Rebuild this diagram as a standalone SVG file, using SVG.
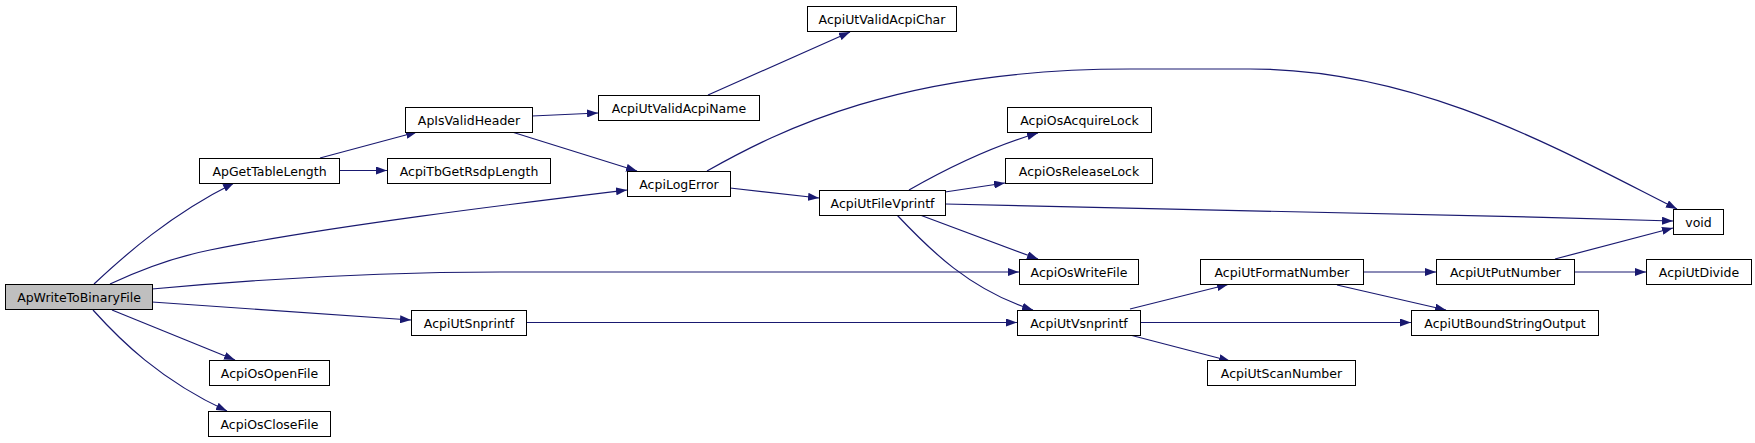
<svg xmlns="http://www.w3.org/2000/svg" width="1755" height="443" viewBox="0 0 1755 443">
<style>
.n rect{fill:#fff;stroke:#000;stroke-width:1}
.root rect{fill:#bfbfbf}
.n text{font-family:"DejaVu Sans",sans-serif;font-size:12.5px;fill:#000;text-anchor:middle}
.e path{fill:none;stroke:#191970;stroke-width:1.2}
</style>
<defs>
<marker id="ah" markerUnits="userSpaceOnUse" markerWidth="11" markerHeight="8" viewBox="0 0 11 8" refX="11" refY="4" orient="auto">
<path d="M0,0 L11,4 L0,8 z" fill="#191970"/>
</marker>
</defs>
<rect width="1755" height="443" fill="#fff"/>
<g id="edges" class="e">
<path marker-end="url(#ah)" d="M94,284 C125,255 170,215 234,183"/>
<path marker-end="url(#ah)" d="M339,170.5 L387,170.5"/>
<path marker-end="url(#ah)" d="M320,158 L417,132"/>
<path marker-end="url(#ah)" d="M532,116 L598,113"/>
<path marker-end="url(#ah)" d="M512,132 L637,171"/>
<path marker-end="url(#ah)" d="M708,95 L850,32"/>
<path marker-end="url(#ah)" d="M110,284 C140,270 170,258 210,250 C330,226 520,203 627,190"/>
<path marker-end="url(#ah)" d="M152,289 C260,279 380,272 500,272 L1019,272"/>
<path marker-end="url(#ah)" d="M152,302 L411,320"/>
<path marker-end="url(#ah)" d="M112,310 L235,360"/>
<path marker-end="url(#ah)" d="M93,310 C120,340 160,380 227,411"/>
<path marker-end="url(#ah)" d="M526,322.5 L1017,322.5"/>
<path marker-end="url(#ah)" d="M730,188 L819,198"/>
<path marker-end="url(#ah)" d="M707,171 C780,130 900,69 1130,69 L1250,69 C1420,69 1560,150 1677,209"/>
<path marker-end="url(#ah)" d="M909,190 C930,178 980,150 1038,133"/>
<path marker-end="url(#ah)" d="M945,192 L1005,183"/>
<path marker-end="url(#ah)" d="M945,204 C1100,206 1400,213 1673,221"/>
<path marker-end="url(#ah)" d="M920,215 L1038,259"/>
<path marker-end="url(#ah)" d="M897,215 C930,250 970,290 1033,310"/>
<path marker-end="url(#ah)" d="M1130,309 L1228,284.5"/>
<path marker-end="url(#ah)" d="M1140,322.5 L1411,322.5"/>
<path marker-end="url(#ah)" d="M1130,335 L1230,361"/>
<path marker-end="url(#ah)" d="M1363,272 L1436,272"/>
<path marker-end="url(#ah)" d="M1337,285 L1446,310"/>
<path marker-end="url(#ah)" d="M1555,259 L1673,228"/>
<path marker-end="url(#ah)" d="M1574,272 L1646,272"/>
</g>
<g id="ApWriteToBinaryFile" class="n root"><rect x="5.5" y="284.5" width="147" height="25"/><text x="79" y="301.5">ApWriteToBinaryFile</text></g>
<g id="ApGetTableLength" class="n"><rect x="199.5" y="158.5" width="140" height="25"/><text x="269.5" y="175.5">ApGetTableLength</text></g>
<g id="ApIsValidHeader" class="n"><rect x="405.5" y="107.5" width="127" height="25"/><text x="469" y="124.5">ApIsValidHeader</text></g>
<g id="AcpiTbGetRsdpLength" class="n"><rect x="387.5" y="158.5" width="163" height="25"/><text x="469" y="175.5">AcpiTbGetRsdpLength</text></g>
<g id="AcpiUtValidAcpiName" class="n"><rect x="598.5" y="95.5" width="161" height="25"/><text x="679" y="112.5">AcpiUtValidAcpiName</text></g>
<g id="AcpiLogError" class="n"><rect x="627.5" y="171.5" width="103" height="25"/><text x="679" y="188.5">AcpiLogError</text></g>
<g id="AcpiUtValidAcpiChar" class="n"><rect x="807.5" y="6.5" width="149" height="25"/><text x="882" y="23.5">AcpiUtValidAcpiChar</text></g>
<g id="AcpiUtFileVprintf" class="n"><rect x="819.5" y="190.5" width="126" height="25"/><text x="882.5" y="207.5">AcpiUtFileVprintf</text></g>
<g id="AcpiOsAcquireLock" class="n"><rect x="1007.5" y="107.5" width="144" height="25"/><text x="1079.5" y="124.5">AcpiOsAcquireLock</text></g>
<g id="AcpiOsReleaseLock" class="n"><rect x="1005.5" y="158.5" width="147" height="25"/><text x="1079" y="175.5">AcpiOsReleaseLock</text></g>
<g id="AcpiOsWriteFile" class="n"><rect x="1019.5" y="259.5" width="119" height="25"/><text x="1079" y="276.5">AcpiOsWriteFile</text></g>
<g id="AcpiUtSnprintf" class="n"><rect x="411.5" y="310.5" width="115" height="25"/><text x="469" y="327.5">AcpiUtSnprintf</text></g>
<g id="AcpiUtVsnprintf" class="n"><rect x="1017.5" y="310.5" width="123" height="25"/><text x="1079" y="327.5">AcpiUtVsnprintf</text></g>
<g id="AcpiOsOpenFile" class="n"><rect x="209.5" y="360.5" width="120" height="25"/><text x="269.5" y="377.5">AcpiOsOpenFile</text></g>
<g id="AcpiOsCloseFile" class="n"><rect x="208.5" y="411.5" width="122" height="25"/><text x="269.5" y="428.5">AcpiOsCloseFile</text></g>
<g id="void" class="n"><rect x="1673.5" y="209.5" width="50" height="25"/><text x="1698.5" y="226.5">void</text></g>
<g id="AcpiUtFormatNumber" class="n"><rect x="1200.5" y="259.5" width="163" height="25"/><text x="1282" y="276.5">AcpiUtFormatNumber</text></g>
<g id="AcpiUtPutNumber" class="n"><rect x="1436.5" y="259.5" width="138" height="25"/><text x="1505.5" y="276.5">AcpiUtPutNumber</text></g>
<g id="AcpiUtDivide" class="n"><rect x="1646.5" y="259.5" width="105" height="25"/><text x="1699" y="276.5">AcpiUtDivide</text></g>
<g id="AcpiUtBoundStringOutput" class="n"><rect x="1411.5" y="310.5" width="187" height="25"/><text x="1505" y="327.5">AcpiUtBoundStringOutput</text></g>
<g id="AcpiUtScanNumber" class="n"><rect x="1207.5" y="360.5" width="148" height="25"/><text x="1281.5" y="377.5">AcpiUtScanNumber</text></g>
</svg>
